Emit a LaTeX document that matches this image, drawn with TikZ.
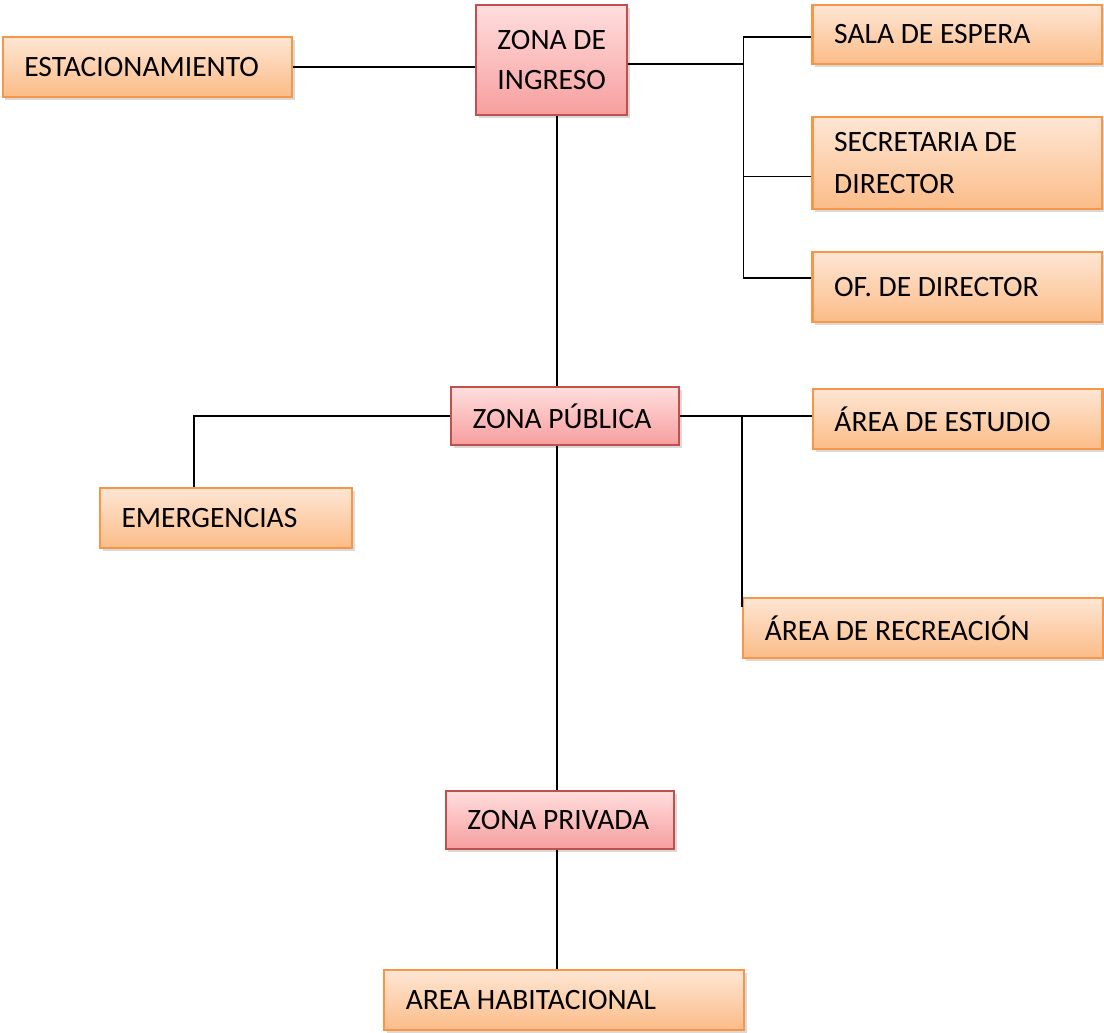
\documentclass[tikz,border=0pt]{standalone}
\usepackage{fontspec}
\setmainfont{Carlito}
\usetikzlibrary{shadows}
\definecolor{orangetop}{RGB}{254,230,212}
\definecolor{orangebot}{RGB}{251,188,136}
\definecolor{orangeline}{RGB}{247,150,70}
\definecolor{rosetop}{RGB}{255,222,222}
\definecolor{rosebot}{RGB}{247,158,158}
\definecolor{roseline}{RGB}{192,80,77}
\begin{document}
\begin{tikzpicture}[x=0.025cm, y=-0.025cm,
		conn/.style={line width=1.2pt, black},
		obox/.style={draw=orangeline, line width=1.6pt, top color=orangetop, bottom color=orangebot,
			drop shadow={opacity=0.3, shadow xshift=0.07cm, shadow yshift=-0.08cm},
			font=\fontsize{21pt}{29.5pt}\selectfont, align=flush left, inner xsep=0.54cm, inner ysep=0pt, text width=#1},
		rbox/.style={obox=#1, draw=roseline, top color=rosetop, bottom color=rosebot}]
		\useasboundingbox (0,0) rectangle (1104,1032);
		\node [obox=6.16cm, minimum height=1.5cm] (est) at (147.5,66.7) {ESTACIONAMIENTO};
		\node [rbox=, text width=, align=center, inner xsep=0pt, minimum width=3.78cm, minimum height=2.75cm] (ingreso) at (551.7,60) {ZONA DE\\[-0.05cm]INGRESO};
		\node [obox=6.16cm, minimum height=1.475cm] (sala) at (957.4,34.5) {SALA DE ESPERA};
		\node [obox=6.16cm, minimum height=2.3cm] (secre) at (957.4,163) {SECRETARIA DE\\DIRECTOR};
		\node [obox=6.16cm, minimum height=1.75cm] (ofic) at (957.4,287) {OF. DE DIRECTOR};
		\node [rbox=4.62cm, minimum height=1.45cm] (pub) at (565,416) {ZONA PÚBLICA};
		\node [obox=6.16cm, minimum height=1.5cm] (estudio) at (957.7,419) {ÁREA DE ESTUDIO};
		\node [obox=5.22cm, minimum height=1.5cm] (emerg) at (226,518) {EMERGENCIAS};
		\node [obox=7.91cm, minimum height=1.5cm] (recre) at (923,628) {ÁREA DE RECREACIÓN};
		\node [rbox=4.62cm, minimum height=1.45cm] (priv) at (559.7,820) {ZONA PRIVADA};
		\node [obox=7.92cm, minimum height=1.5cm] (hab) at (564.3,1000) {AREA HABITACIONAL};
		\coordinate (spine) at (556.7,0);
		\coordinate (bus) at (743.5,64);
		\draw [conn] (est.east) -- (est.east -| ingreso.west);
		\draw [conn] (ingreso.east |- bus) -- (bus);
		\draw [conn] ([yshift=-0.07cm]sala.west) -| (bus);
		\draw [conn] ([yshift=-0.34cm]secre.west) -| (bus);
		\draw [conn] ([yshift=0.23cm]ofic.west) -| (bus);
		\draw [conn] (ingreso.south -| spine) -- (pub.north -| spine);
		\draw [conn] (pub.west) -| ([xshift=2.375cm]emerg.north west);
		\draw [conn] (pub.east) -- (pub.east -| estudio.west);
		\draw [conn] (pub.east -| recre.north west) -- ([yshift=-0.25cm]recre.north west);
		\draw [conn] (pub.south -| spine) -- (priv.north -| spine);
		\draw [conn] (priv.south -| spine) -- (hab.north -| spine);
	\end{tikzpicture}
\end{document}
